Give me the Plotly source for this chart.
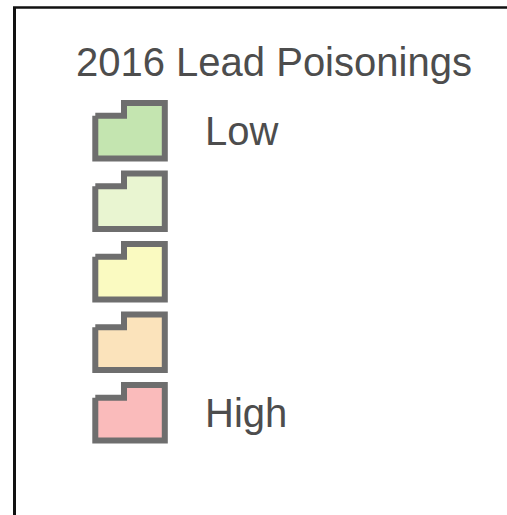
import plotly.graph_objects as go

# Legend data
title = "2016 Lead Poisonings"
categories = ["Low", "", "", "", "High"]
fill_colors = ["#c4e5b0", "#e9f5d1", "#fafac1", "#fbe3bb", "#fabbbb"]
outline_color = "#6e6e6e"
text_color = "#4d4d4d"

W, H = 507, 515
fig = go.Figure()

# notch-shaped swatch template (relative coords, stroke-centred)
tx = [3, 31.7, 31.7, 72.5, 72.5, 3, 3]
ty = [15.7, 15.7, 3, 3, 58.5, 58.5, 15.7]
x0 = 92.3
y_first = 100
step = 70.5

for i, (cat, col) in enumerate(zip(categories, fill_colors)):
    y0 = y_first + i * step
    fig.add_trace(go.Scatter(
        x=[x0 + v for v in tx], y=[y0 + v for v in ty],
        mode="lines", fill="toself", fillcolor=col,
        line=dict(color=outline_color, width=6),
        hoverinfo="skip", showlegend=False))
    if cat:
        fig.add_annotation(x=203, y=y0 + 31, text=cat, showarrow=False,
                           xanchor="left", yanchor="middle",
                           font=dict(family="Liberation Sans, Arial", size=40, color=text_color))

fig.add_annotation(x=273.5, y=61.5, text=title, showarrow=False,
                   xanchor="center", yanchor="middle",
                   font=dict(family="Liberation Sans, Arial", size=40, color=text_color))

# frame lines (top and left)
fig.add_shape(type="line", x0=13, x1=W, y0=7.5, y1=7.5, line=dict(color="#111111", width=2.5))
fig.add_shape(type="line", x0=14.5, x1=14.5, y0=7, y1=H, line=dict(color="#111111", width=3))

fig.update_xaxes(range=[0, W], visible=False, fixedrange=True)
fig.update_yaxes(range=[H, 0], visible=False, fixedrange=True)
fig.update_layout(width=W, height=H, margin=dict(l=0, r=0, t=0, b=0),
                  paper_bgcolor="white", plot_bgcolor="white", showlegend=False)
fig.write_html("out.html", config={"displayModeBar": False},
               post_script="document.body.style.margin='0';document.body.style.overflow='hidden';")
